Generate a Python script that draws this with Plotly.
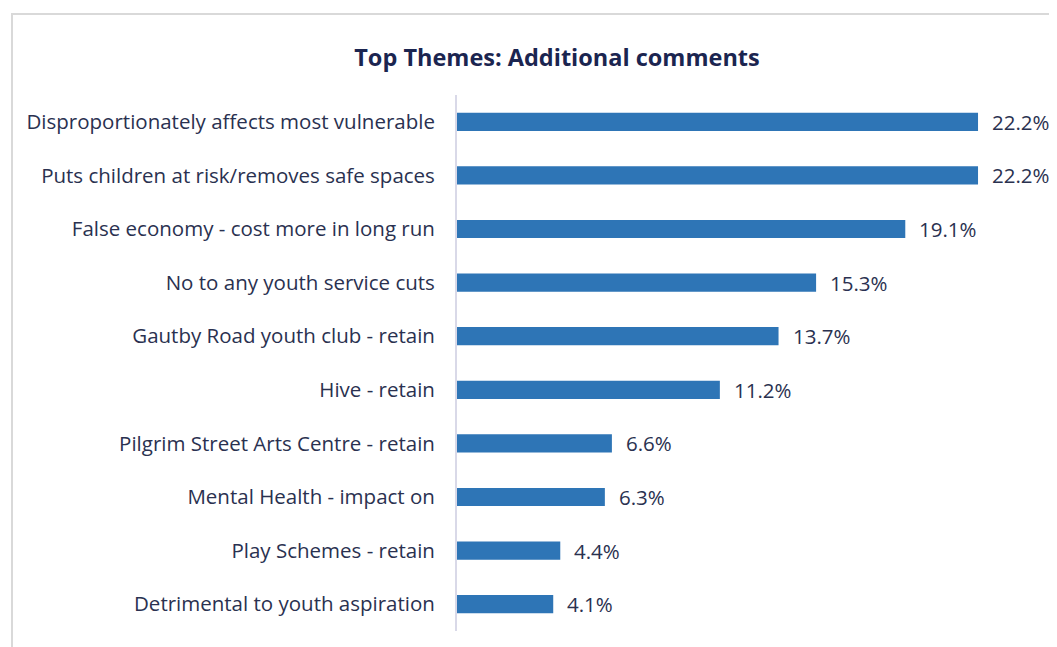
import plotly.graph_objects as go

categories = [
    "Disproportionately affects most vulnerable",
    "Puts children at risk/removes safe spaces",
    "False economy - cost more in long run",
    "No to any youth service cuts",
    "Gautby Road youth club - retain",
    "Hive - retain",
    "Pilgrim Street Arts Centre - retain",
    "Mental Health - impact on",
    "Play Schemes - retain",
    "Detrimental to youth aspiration",
]
values = [22.2, 22.2, 19.1, 15.3, 13.7, 11.2, 6.6, 6.3, 4.4, 4.1]
value_labels = [f"{v:.1f}%" for v in values]

W, H = 1057, 647
OFF = 8  # page body margin offset
text_color = "#2a3150"
bar_color = "#2E75B6"
FONT = "Open Sans"
FS = 20.5

L, R, T, B = 457 - OFF, 19, 95 - OFF, 24
pw, ph = W - L - R, H - T - B

fig = go.Figure()
fig.add_trace(go.Bar(
    x=values, y=categories, orientation="h",
    marker=dict(color=bar_color, line=dict(width=0)),
    hoverinfo="skip",
))

for v, c, t in zip(values, categories, value_labels):
    fig.add_annotation(x=v, y=c, text=t, showarrow=False, xanchor="left",
                       xshift=12, font=dict(size=FS, color=text_color, family=FONT))

fig.update_layout(
    width=W, height=H,
    paper_bgcolor="white", plot_bgcolor="white",
    margin=dict(l=L, r=R, t=T, b=B),
    bargap=0.66,
    showlegend=False,
    font=dict(family=FONT, size=FS, color=text_color),
    title=dict(text="<b>Top Themes: Additional comments</b>", x=(557 - OFF) / W, xanchor="center",
               y=1 - (58 - OFF) / H, yanchor="middle", font=dict(size=23.5, color="#1b2550", family=FONT)),
    xaxis=dict(range=[0, pw / 23.47], showgrid=False, zeroline=False, showticklabels=False,
               showline=False, fixedrange=True),
    yaxis=dict(autorange="reversed", showgrid=False, zeroline=False, ticks="",
               showline=True, linecolor="#d9d9e8", linewidth=2, ticklabelstandoff=16,
               tickfont=dict(size=FS, color=text_color, family=FONT)),
    shapes=[dict(type="rect", xref="paper", yref="paper",
                 x0=(12 - OFF - L) / pw, x1=(W + 20 - L) / pw,
                 y0=(-20 - B) / ph, y1=(H - (14 - OFF) - B) / ph,
                 line=dict(color="#d9d9d9", width=2),
                 fillcolor="rgba(0,0,0,0)", layer="below")],
)

fig.write_html("out.html")
